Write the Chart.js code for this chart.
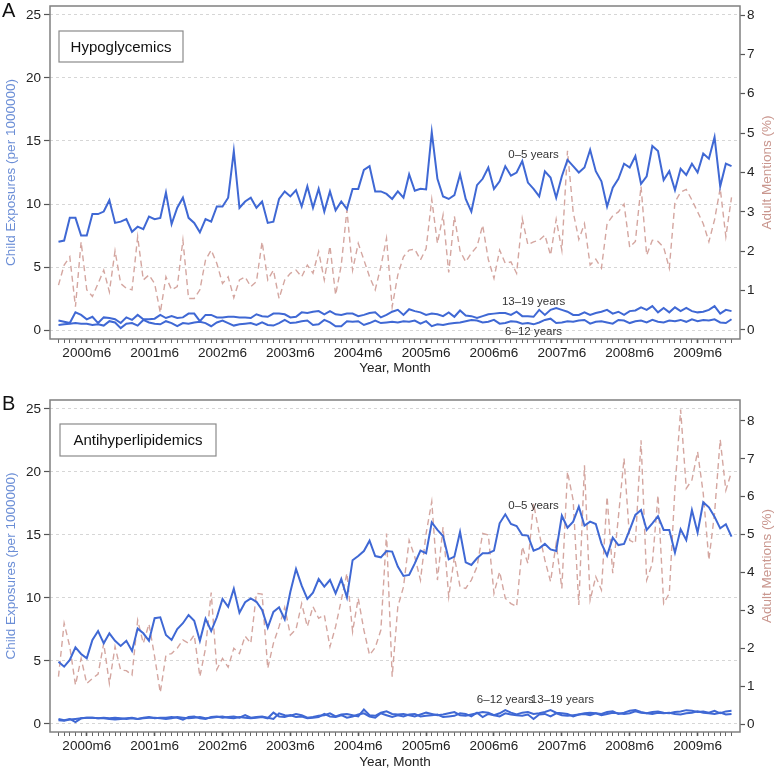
<!DOCTYPE html>
<html><head><meta charset="utf-8">
<script src="https://cdn.jsdelivr.net/npm/chart.js@4"></script>
<style>
html,body{margin:0;padding:0;background:#fff;}
#wrap{position:relative;width:777px;height:770px;overflow:hidden;}
canvas{position:absolute;left:0;}
#ca{top:0;} #cb{top:385px;}
</style></head><body>
<div id="wrap">
<canvas id="ca" width="777" height="385"></canvas>
<canvas id="cb" width="777" height="385"></canvas>
</div>
<script>
// ---- categories ----
const months = [];
for (let y = 2000; y <= 2009; y++) for (let m = 1; m <= 12; m++) months.push(y + 'm' + m);
const leftTicks = [0, 5, 10, 15, 20, 25];
const rightTicks = [0, 1, 2, 3, 4, 5, 6, 7, 8];

// ---- Panel A: Hypoglycemics ----
const hypo_0_5 = [7.0,7.1,8.9,8.9,7.5,7.5,9.2,9.2,9.4,10.3, 8.5,8.6,8.8,7.8,8.2,8.0,9.0,8.8,8.9,10.9,
 8.4,9.7,10.5,8.9,8.5,7.75,8.8,8.6,9.8,9.8, 10.5,14.2,9.7,10.2,10.5,9.7,10.2,8.5,8.6,10.4,
 11.0,10.6,11.1,9.8,11.4,9.7,11.2,9.4,11.0,9.5, 10.2,9.6,11.2,11.2,12.7,13.0,11.0,11.0,10.8,10.4,
 11.0,10.5,12.35,11.05,11.2,11.15,15.7,12.0,10.6,10.4, 10.7,12.35,10.4,9.4,11.5,12.0,12.9,11.2,11.8,13.0,
 12.25,12.5,13.4,11.7,11.2,10.6,12.6,12.1,10.5,12.2, 13.5,13.0,12.5,12.9,14.3,12.6,11.8,9.8,11.3,12.0,
 13.2,12.9,13.8,11.6,12.2,14.6,14.2,11.9,12.6,11.1, 12.8,12.3,13.2,12.5,14.0,13.6,15.3,11.4,13.2,13.0];
const hypo_6_12 = [0.4,0.45,0.5,0.55,0.5,0.5,0.4,0.45,0.35,0.7,0.6,0.15,
 0.5,0.55,0.35,0.8,0.6,0.5,0.45,0.7,0.55,0.3,0.55,0.5,
 0.6,0.65,0.55,0.3,0.6,0.75,0.55,0.35,0.45,0.5,0.55,0.4,
 0.6,0.4,0.35,0.55,0.8,0.55,0.6,0.7,0.75,0.4,0.45,0.8,
 0.6,0.3,0.3,0.7,0.65,0.7,0.4,0.55,0.75,0.55,0.6,0.65,
 0.6,0.7,0.65,0.75,0.5,0.7,0.3,0.45,0.4,0.5,0.55,0.6,
 0.7,0.8,0.75,0.6,0.65,0.8,0.5,0.55,0.7,0.65,0.5,0.55,
 0.45,0.6,0.8,0.9,0.55,0.6,0.7,0.65,0.75,0.8,0.5,0.65,
 0.7,0.6,0.5,0.8,0.75,0.55,0.7,0.75,0.6,0.8,0.65,0.6,
 0.75,0.7,0.8,0.65,0.85,0.7,0.8,0.75,0.85,0.6,0.55,0.85];
const hypo_13_19 = [0.75,0.65,0.55,1.4,1.2,0.85,1.05,0.55,1.0,0.95,0.85,0.55,
 1.0,0.8,1.2,0.85,0.85,0.9,1.2,0.95,1.1,0.95,1.0,1.3,
 1.3,0.7,1.2,1.2,1.0,1.0,1.05,1.05,1.0,1.0,0.95,1.25,
 1.1,1.05,1.3,1.3,1.25,1.0,1.05,1.4,1.35,1.45,1.5,1.25,
 1.5,1.25,1.2,1.3,1.3,1.1,1.2,1.35,1.4,1.0,1.2,1.45,
 1.6,1.2,1.65,1.5,1.4,1.2,1.3,1.25,1.1,1.4,1.05,1.55,
 1.15,1.1,0.95,1.1,1.25,1.3,1.35,1.35,1.2,1.45,1.1,1.1,
 1.05,1.6,1.2,1.6,1.75,1.6,1.45,1.2,1.2,1.4,1.2,1.35,
 1.45,1.6,1.3,1.45,1.2,1.5,1.55,1.8,1.6,1.9,1.4,1.75,
 1.4,1.8,1.5,1.75,1.5,1.4,1.45,1.6,1.9,1.3,1.6,1.5];
const hypo_adult = [1.14,1.65,1.86,0.59,2.24,1.02,0.85,1.18,1.52,0.97, 2.01,1.18,1.06,1.02,2.37,1.27,1.40,1.18,0.44,1.35,
 1.02,1.10,2.28,0.80,0.80,1.02,1.78,2.03,1.69,1.18, 1.35,0.82,1.27,1.35,1.10,1.23,2.24,1.27,1.52,0.80,
 1.27,1.44,1.52,1.35,1.65,1.44,1.99,1.27,2.13,0.89, 1.65,3.05,1.52,2.20,1.78,1.35,1.02,1.61,2.33,0.59,
 1.4,1.86,2.03,2.05,1.78,2.07,3.32,2.20,2.92,1.46, 2.89,2.01,1.73,1.95,2.12,2.66,1.79,1.31,2.03,1.69,
 1.73,1.44,2.83,2.16,2.24,2.28,2.41,1.90,2.81,2.03, 4.55,3.0,2.3,2.7,1.65,1.8,1.57,2.7,2.9,3.0,
 3.2,2.1,2.25,3.65,1.9,2.28,2.25,2.1,1.57,3.25, 3.5,3.57,3.3,3.0,2.7,2.24,2.8,3.6,2.37,3.37];

// ---- Panel B: Antihyperlipidemics ----
const lipid_0_5 = [4.95,4.55,5.08,6.08,5.56,5.21,6.67,7.38,6.4,7.2, 6.6,6.2,6.6,5.8,7.57,7.2,6.6,8.4,8.47,7.06,
 6.67,7.54,8.0,8.65,8.2,6.6,8.36,7.38,8.47,9.92, 9.3,10.74,8.84,9.66,9.97,9.7,9.05,7.65,8.9,9.26,
 8.3,10.5,12.3,10.98,9.92,10.42,11.5,10.9,11.43,10.37, 11.5,10.05,13.0,13.33,13.73,14.55,13.33,13.23,13.73,13.68,
 12.5,11.75,11.83,12.75,13.76,13.55,16.0,15.4,14.92,13.07, 13.28,15.24,12.83,12.62,13.15,13.55,13.55,13.76,15.93,16.64,
 15.87,15.71,15.0,14.95,13.76,13.94,14.29,13.86,13.73,16.53, 15.58,16.06,17.25,15.74,16.06,15.87,14.34,13.36,14.79,14.2,
 14.29,15.4,16.59,16.98,15.4,15.93,16.5,15.4,15.4,13.6, 15.45,14.6,16.98,15.2,17.6,17.2,16.45,15.53,15.85,14.87];
const lipid_6_12 = [0.3,0.25,0.35,0.4,0.45,0.5,0.5,0.45,0.45,0.4,0.35,0.4,
 0.45,0.5,0.4,0.45,0.5,0.5,0.45,0.4,0.45,0.55,0.5,0.45,
 0.5,0.55,0.45,0.5,0.55,0.6,0.5,0.45,0.55,0.5,0.45,0.5,
 0.55,0.45,0.9,0.6,0.55,0.7,0.55,0.6,0.45,0.5,0.55,0.8,
 0.6,0.55,0.7,0.5,0.6,0.75,0.85,0.6,0.5,0.85,0.7,0.55,
 0.7,0.6,0.75,0.8,0.6,0.65,0.7,0.75,0.55,0.6,0.65,0.85,
 0.8,0.6,0.9,0.55,0.8,0.7,0.6,0.85,0.75,0.7,0.65,0.75,
 0.4,0.75,0.8,0.6,0.85,0.7,0.65,0.7,0.75,0.8,0.7,0.85,
 0.7,0.8,0.9,0.85,0.8,0.85,1.0,0.9,0.85,0.8,0.9,0.85,
 0.9,0.8,0.75,0.85,0.9,1.0,0.9,0.85,0.8,0.9,0.75,0.8];
const lipid_13_19 = [0.4,0.3,0.4,0.15,0.45,0.5,0.5,0.45,0.5,0.45,0.5,0.45,
 0.4,0.45,0.4,0.5,0.55,0.45,0.5,0.5,0.55,0.5,0.35,0.55,
 0.6,0.45,0.4,0.55,0.6,0.5,0.55,0.6,0.5,0.7,0.5,0.55,
 0.6,0.5,0.4,0.85,0.7,0.65,0.8,0.7,0.5,0.55,0.65,0.7,
 0.85,0.6,0.75,0.8,0.7,0.6,1.15,0.7,0.65,0.9,1.0,0.8,
 0.75,0.8,0.7,0.6,0.75,0.9,0.8,0.7,0.75,0.85,0.95,0.7,
 0.65,0.75,0.85,0.95,0.9,0.7,0.85,1.1,0.9,0.75,0.9,0.95,
 0.8,0.85,0.95,1.1,0.9,0.85,0.8,0.6,0.75,0.85,0.9,0.85,
 0.8,0.95,1.0,0.8,0.9,1.05,1.1,0.95,0.85,0.95,1.0,0.9,
 0.85,0.95,1.0,1.1,1.05,0.95,1.0,0.9,1.05,0.85,1.0,1.05];
const lipid_adult = [1.25,2.66,2.04,1.03,1.73,1.07,1.2,1.32,2.13,1.07, 2.04,1.42,1.41,1.29,2.74,2.13,2.64,1.78,0.83,1.82,
 1.86,2.0,2.22,2.13,2.35,1.25,2.0,3.47,1.44,1.73, 1.5,2.0,1.86,2.32,2.13,3.45,3.43,1.47,2.13,2.57,
 3.08,2.35,2.5,3.18,2.57,3.1,2.79,2.88,2.04,2.57, 3.27,3.98,2.44,3.32,2.48,1.82,2.02,2.48,5.03,1.25,
 3.1,3.62,4.85,4.41,3.8,5.03,5.87,3.8,5.2,3.36, 4.41,3.62,3.58,3.8,4.15,5.03,4.99,3.45,4.02,3.32,
 3.18,3.1,4.68,4.24,5.82,5.03,4.33,3.76,4.77,3.58, 6.66,5.91,3.14,6.83,3.27,3.89,3.54,6.0,3.98,5.47,
 7.01,4.85,4.77,7.49,3.8,4.24,6.04,3.18,3.45,6.22, 8.3,6.22,6.44,7.19,6.09,4.33,5.56,7.51,6.17,6.66];

// ---- styling ----
const FONT = "'Liberation Sans', Arial, Helvetica, sans-serif";
const BLUE = '#3f68d4';
const ROSE = '#d4a6a0';
Chart.defaults.font.family = FONT;

const toXY = arr => arr.map((v, i) => ({x: i, y: v}));

const decor = {
  id: 'decor',
  afterDraw(chart, args, o) {
    const {ctx, chartArea: a} = chart;
    ctx.save();
    ctx.strokeStyle = '#808080'; ctx.lineWidth = 1.5;
    ctx.strokeRect(a.left, a.top, a.right - a.left, a.bottom - a.top);
    // right axis title (reads bottom to top)
    ctx.save();
    ctx.fillStyle = '#c9968e';
    ctx.font = '13.5px ' + FONT;
    ctx.translate(o.rightTitleX, (a.top + a.bottom) / 2);
    ctx.rotate(-Math.PI / 2);
    ctx.textAlign = 'center'; ctx.textBaseline = 'middle';
    ctx.fillText('Adult Mentions (%)', 0, 0);
    ctx.restore();
    // panel letter
    ctx.fillStyle = '#111';
    ctx.font = '20px ' + FONT;
    ctx.textAlign = 'left'; ctx.textBaseline = 'alphabetic';
    ctx.fillText(o.letter, 2, o.letterY);
    // title box
    const b = o.box;
    ctx.fillStyle = '#fff';
    ctx.fillRect(b.x, b.y, b.w, b.h);
    ctx.strokeStyle = '#8a8a8a'; ctx.lineWidth = 1.2;
    ctx.strokeRect(b.x, b.y, b.w, b.h);
    ctx.fillStyle = '#111';
    ctx.font = '15px ' + FONT;
    ctx.textAlign = 'center'; ctx.textBaseline = 'middle';
    ctx.fillText(b.text, b.x + b.w / 2, b.y + b.h / 2 + 1);
    // series labels
    ctx.font = '11.5px ' + FONT;
    ctx.fillStyle = '#333';
    const xs = chart.scales.x, ys = chart.scales.y;
    o.notes.forEach(n => {
      ctx.textAlign = n.align || 'center';
      ctx.fillText(n.t, xs.getPixelForValue(n.x), ys.getPixelForValue(n.y));
    });
    ctx.restore();
  }
};

function makeChart(id, c) {
  return new Chart(document.getElementById(id), {
    type: 'line',
    data: {
      datasets: [
        {label: '0–5 years', data: toXY(c.s05), yAxisID: 'y', borderColor: BLUE, borderWidth: 2, pointRadius: 0, tension: 0},
        {label: '6–12 years', data: toXY(c.s612), yAxisID: 'y', borderColor: BLUE, borderWidth: 2, pointRadius: 0, tension: 0},
        {label: '13–19 years', data: toXY(c.s1319), yAxisID: 'y', borderColor: BLUE, borderWidth: 2, pointRadius: 0, tension: 0},
        {label: 'Adult Mentions (%)', data: toXY(c.adult), yAxisID: 'y2', borderColor: ROSE, borderWidth: 1.4, borderDash: [6, 4], pointRadius: 0, tension: 0}
      ]
    },
    options: {
      responsive: false, animation: false,
      layout: {padding: {top: c.top, left: 0, right: 0, bottom: 0}},
      plugins: {legend: {display: false}, tooltip: {enabled: false}, decor: c.decor},
      scales: {
        x: {
          type: 'linear', min: -1.5, max: 120.5, bounds: 'data',
          afterBuildTicks: s => { s.ticks = months.map((m, i) => ({value: i})); },
          ticks: {autoSkip: false, maxRotation: 0, minRotation: 0, padding: 2, color: '#222',
            font: {size: 13.5, family: FONT},
            callback: v => (months[v] && months[v].endsWith('m6')) ? months[v] : ''},
          grid: {drawOnChartArea: false, drawTicks: true, tickLength: 4, tickColor: '#555',
            tickWidth: ctx => (ctx.tick && ctx.tick.value % 12 === 5) ? 1.6 : 0.9},
          border: {display: false},
          title: {display: true, text: 'Year, Month', color: '#222', font: {size: 13.5, family: FONT}, padding: {top: 0, bottom: c.xTitlePad}},
          afterFit: s => { s.height = c.xh; s.paddingLeft = 0; s.paddingRight = 0; }
        },
        y: {
          position: 'left', min: c.yMin, max: c.yMax, bounds: 'data',
          afterBuildTicks: s => { s.ticks = leftTicks.map(v => ({value: v})); },
          ticks: {padding: 3, color: '#222', font: {size: 13.5, family: FONT}},
          grid: {color: '#d6d6d6', lineWidth: 1, tickLength: 6, tickColor: '#555', tickWidth: 1.2},
          border: {display: false, dash: [3, 3]},
          title: {display: true, text: 'Child Exposures (per 1000000)', color: '#6b8ed6', font: {size: 13.5, family: FONT}, padding: {top: 3, bottom: 0}},
          afterFit: s => { s.width = 50; s.paddingTop = 0; s.paddingBottom = 0; }
        },
        y2: {
          position: 'right', min: c.y2Min, max: c.y2Max, bounds: 'data',
          afterBuildTicks: s => { s.ticks = rightTicks.map(v => ({value: v})); },
          ticks: {padding: 2, color: '#222', font: {size: 13.5, family: FONT}},
          grid: {drawOnChartArea: false, tickLength: 5, tickColor: '#555', tickWidth: 1.2},
          border: {display: false},
          afterFit: s => { s.width = 37; s.paddingTop = 0; s.paddingBottom = 0; }
        }
      }
    },
    plugins: [decor]
  });
}

makeChart('ca', {
  s05: hypo_0_5, s612: hypo_6_12, s1319: hypo_13_19, adult: hypo_adult,
  top: 6, xh: 46, xTitlePad: 9,
  yMin: -0.714, yMax: 25.714, y2Min: -0.229, y2Max: 8.229,
  decor: {letter: 'A', letterY: 17, rightTitleX: 767,
    box: {x: 59, y: 31, w: 124, h: 31, text: 'Hypoglycemics'},
    notes: [{t: '0–5 years', x: 84, y: 13.9}, {t: '13–19 years', x: 84, y: 2.2}, {t: '6–12 years', x: 84, y: -0.15}]}
});
makeChart('cb', {
  s05: lipid_0_5, s612: lipid_6_12, s1319: lipid_13_19, adult: lipid_adult,
  top: 15, xh: 38, xTitlePad: 0,
  yMin: -0.635, yMax: 25.714, y2Min: -0.211, y2Max: 8.554,
  decor: {letter: 'B', letterY: 25, rightTitleX: 767,
    box: {x: 60, y: 39, w: 156, h: 32, text: 'Antihyperlipidemics'},
    notes: [{t: '0–5 years', x: 84, y: 17.3}, {t: '6–12 years', x: 79.0, y: 1.9}, {t: '13–19 years', x: 89.1, y: 1.9}]}
});
</script>
</body></html>
